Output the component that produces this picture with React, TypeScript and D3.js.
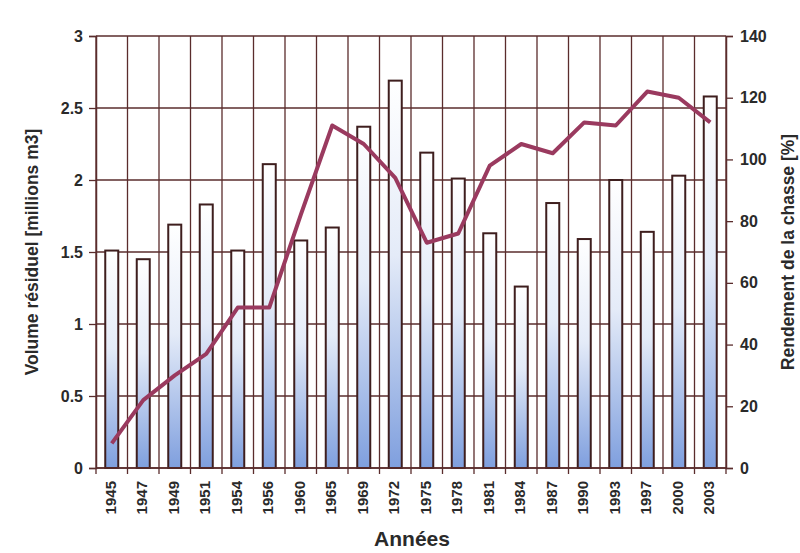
import * as d3 from 'd3';
import { useEffect, useRef } from 'react';

const years = ['1945', '1947', '1949', '1951', '1954', '1956', '1960', '1965', '1969', '1972',
  '1975', '1978', '1981', '1984', '1987', '1990', '1993', '1997', '2000', '2003'];
const volume = [1.51, 1.45, 1.69, 1.83, 1.51, 2.11, 1.58, 1.67, 2.37, 2.69,
  2.19, 2.01, 1.63, 1.26, 1.84, 1.59, 2.0, 1.64, 2.03, 2.58];
const rendement = [8, 22, 30, 37, 52, 52, 82, 111, 105, 94,
  73, 76, 98, 105, 102, 112, 111, 122, 120, 112];
const leftTicks = [0, 0.5, 1, 1.5, 2, 2.5, 3];
const rightTicks = [0, 20, 40, 60, 80, 100, 120, 140];

export default function App() {
  const ref = useRef<SVGSVGElement>(null);

  useEffect(() => {
    const svg = d3.select(ref.current);
    svg.selectAll('*').remove();

    const width = 800, height = 553;
    const m = { top: 36, right: 74, bottom: 85, left: 96 };
    const ink = '#5a2c2c';
    const txt = '#2a2a2a';
    const font = 'Liberation Sans, Arial, sans-serif';

    const x = d3.scaleBand().domain(years).range([m.left, width - m.right]).paddingInner(0).paddingOuter(0);
    const yL = d3.scaleLinear().domain([0, 3]).range([height - m.bottom, m.top]);
    const yR = d3.scaleLinear().domain([0, 140]).range([height - m.bottom, m.top]);

    const defs = svg.append('defs');
    const grad = defs.append('linearGradient').attr('id', 'barGrad')
      .attr('x1', 0).attr('y1', 0).attr('x2', 0).attr('y2', 1);
    grad.append('stop').attr('offset', '0%').attr('stop-color', '#ffffff');
    grad.append('stop').attr('offset', '45%').attr('stop-color', '#e4ebf8');
    grad.append('stop').attr('offset', '100%').attr('stop-color', '#7f9fde');

    svg.append('rect').attr('width', width).attr('height', height).attr('fill', '#fff');

    // horizontal grid
    svg.append('g').selectAll('line').data(leftTicks).join('line')
      .attr('x1', m.left).attr('x2', width - m.right)
      .attr('y1', (d) => yL(d)).attr('y2', (d) => yL(d))
      .attr('stroke', ink).attr('stroke-width', 1.3);

    // vertical grid at category boundaries
    const bounds = years.map((d) => x(d)!).concat([width - m.right]);
    svg.append('g').selectAll('line').data(bounds).join('line')
      .attr('x1', (d) => d).attr('x2', (d) => d)
      .attr('y1', m.top).attr('y2', height - m.bottom + 6)
      .attr('stroke', ink).attr('stroke-width', 1.3);

    // bars
    const bw = 13;
    svg.append('g').selectAll('rect').data(volume).join('rect')
      .attr('x', (_, i) => x(years[i])! + x.bandwidth() / 2 - bw / 2)
      .attr('y', (d) => yL(d))
      .attr('width', bw)
      .attr('height', (d) => yL(0) - yL(d))
      .attr('fill', 'url(#barGrad)')
      .attr('stroke', '#3e1e1e').attr('stroke-width', 2);

    // left axis
    const axL = svg.append('g').attr('transform', `translate(${m.left},0)`)
      .call(d3.axisLeft(yL).tickValues(leftTicks).tickSize(7).tickPadding(6).tickFormat((d) => String(d)));
    axL.select('.domain').attr('stroke', ink).attr('stroke-width', 1.5);
    axL.selectAll('line').attr('stroke', ink).attr('stroke-width', 1.3);
    axL.selectAll('text').attr('font-family', font).attr('font-size', 16).attr('font-weight', 'bold').attr('fill', txt);

    // right axis
    const axR = svg.append('g').attr('transform', `translate(${width - m.right},0)`)
      .call(d3.axisRight(yR).tickValues(rightTicks).tickSize(7).tickPadding(7));
    axR.select('.domain').attr('stroke', ink).attr('stroke-width', 1.5);
    axR.selectAll('line').attr('stroke', ink).attr('stroke-width', 1.3);
    axR.selectAll('text').attr('font-family', font).attr('font-size', 16).attr('font-weight', 'bold').attr('fill', txt);

    // bottom baseline
    svg.append('line').attr('x1', m.left).attr('x2', width - m.right)
      .attr('y1', yL(0)).attr('y2', yL(0)).attr('stroke', ink).attr('stroke-width', 1.5);

    // year labels
    svg.append('g').selectAll('text').data(years).join('text')
      .attr('transform', (d) => `translate(${x(d)! + x.bandwidth() / 2 + 4},${height - m.bottom + 13}) rotate(-90)`)
      .attr('text-anchor', 'end')
      .attr('font-family', font).attr('font-size', 15).attr('font-weight', 'bold').attr('fill', txt)
      .text((d) => d);

    // line
    const line = d3.line<number>()
      .x((_, i) => x(years[i])! + x.bandwidth() / 2)
      .y((d) => yR(d));
    svg.append('path').datum(rendement)
      .attr('d', line)
      .attr('fill', 'none').attr('stroke', '#9a3a5f').attr('stroke-width', 4)
      .attr('stroke-linejoin', 'round');

    // titles
    svg.append('text')
      .attr('transform', `translate(38,${(m.top + height - m.bottom) / 2}) rotate(-90)`)
      .attr('text-anchor', 'middle').attr('font-family', font).attr('font-weight', 'bold')
      .attr('font-size', 17.5).attr('fill', txt)
      .text('Volume résiduel [millions m3]');
    svg.append('text')
      .attr('transform', `translate(794,${(m.top + height - m.bottom) / 2}) rotate(-90)`)
      .attr('text-anchor', 'middle').attr('font-family', font).attr('font-weight', 'bold')
      .attr('font-size', 17.5).attr('fill', txt)
      .text('Rendement de la chasse [%]');
    svg.append('text')
      .attr('x', 412).attr('y', 546)
      .attr('text-anchor', 'middle').attr('font-family', font).attr('font-weight', 'bold')
      .attr('font-size', 21).attr('fill', txt)
      .text('Années');
  }, []);

  return <svg ref={ref} width={800} height={553} style={{ display: 'block', position: 'absolute', left: 0, top: 0 }} />;
}
